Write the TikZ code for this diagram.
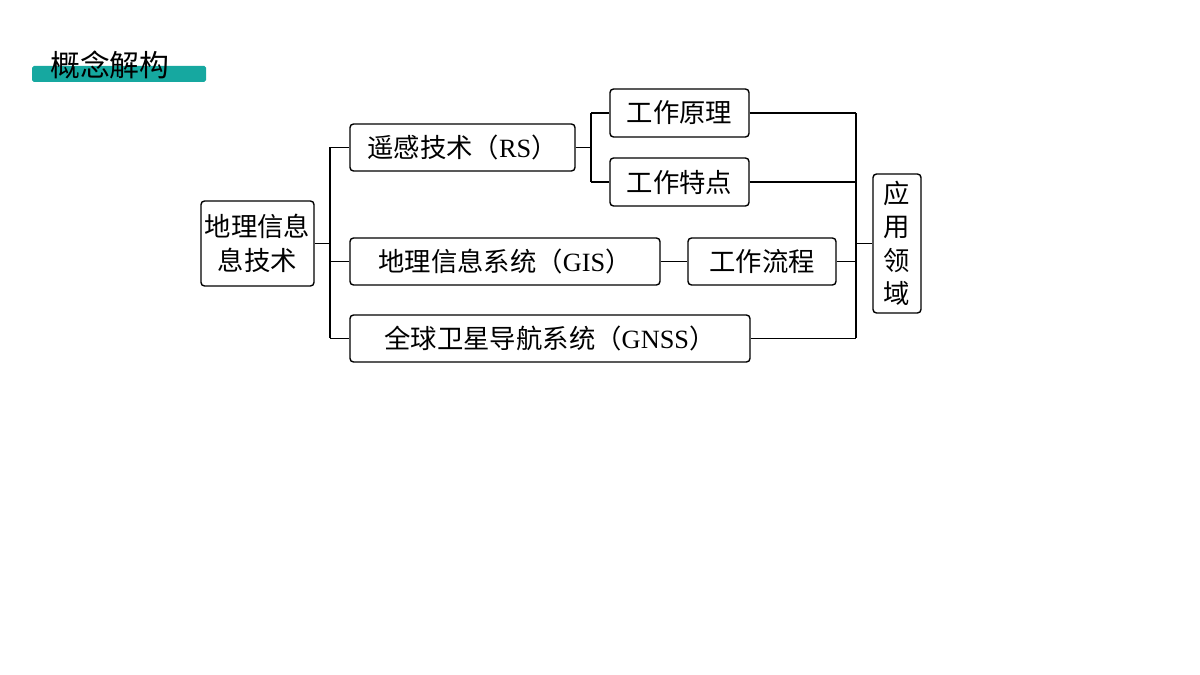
\documentclass[tikz,border=0pt]{standalone}
\usepackage{fontspec}
\setmainfont{Liberation Serif}
\newfontfamily\cjk{Noto Sans CJK SC}
\usetikzlibrary{positioning}
\definecolor{tealbar}{RGB}{22,168,160}
\tikzset{
  box/.style={draw, rounded corners=2pt, line width=0.8pt, inner sep=0pt,
    font=\fontsize{15}{19}\selectfont},
  link/.style={line width=0.8pt}
}
\begin{document}
\begin{tikzpicture}[x=0.02cm,y=-0.02cm]
\useasboundingbox (0,0) rectangle (1200,675);
% title
\fill[tealbar, rounded corners=1pt] (32,66) rectangle (206,82);
\node[anchor=west, font=\fontsize{17}{20}\selectfont\cjk] (title) at (44,65) {概念解构};

% boxes
\node[box, minimum width=113*0.02cm, minimum height=85*0.02cm, align=center] (root) at (257.5,243.5) {\cjk 地理信息\\\cjk 息技术};
\node[box, minimum width=225*0.02cm, minimum height=47*0.02cm] (rs) at (462.5,147.5) {{\cjk 遥感技术（}RS{\cjk ）}};
\node[box, minimum width=310*0.02cm, minimum height=47*0.02cm] (gis) at (505,261.5) {{\cjk 地理信息系统（}GIS{\cjk ）}};
\node[box, minimum width=400*0.02cm, minimum height=47*0.02cm] (gnss) at (550,338.5) {{\cjk 全球卫星导航系统（}GNSS{\cjk ）}};
\node[box, minimum width=139*0.02cm, minimum height=48*0.02cm] (yl) at (679.5,113) {\cjk 工作原理};
\node[box, minimum width=139*0.02cm, minimum height=48*0.02cm] (td) at (679.5,182) {\cjk 工作特点};
\node[box, minimum width=148*0.02cm, minimum height=47*0.02cm] (lc) at (762,261.5) {\cjk 工作流程};
\node[box, minimum width=48*0.02cm, minimum height=139*0.02cm, align=center] (app) at (897,243.5) {\cjk 应\\\cjk 用\\\cjk 领\\\cjk 域};

% connectors
\coordinate (ja) at (330,0);
\draw[link] (root.east) -- (root.east -| ja);
\draw[link] (rs.west -| ja) -- (gnss.west -| ja);
\foreach \n in {rs,gis,gnss} \draw[link] (\n.west -| ja) -- (\n.west);
\coordinate (jb) at (591,0);
\draw[link] (rs.east) -- (rs.east -| jb);
\draw[link] (yl.west -| jb) -- (td.west -| jb);
\foreach \n in {yl,td} \draw[link] (\n.west -| jb) -- (\n.west);
\draw[link] (gis) -- (lc);
\coordinate (jc) at (856,0);
\foreach \n in {yl,td,lc,gnss} \draw[link] (\n.east) -- (\n.east -| jc);
\draw[link] (yl.east -| jc) -- (gnss.east -| jc);
\draw[link] (app.west -| jc) -- (app.west);
\end{tikzpicture}
\end{document}
